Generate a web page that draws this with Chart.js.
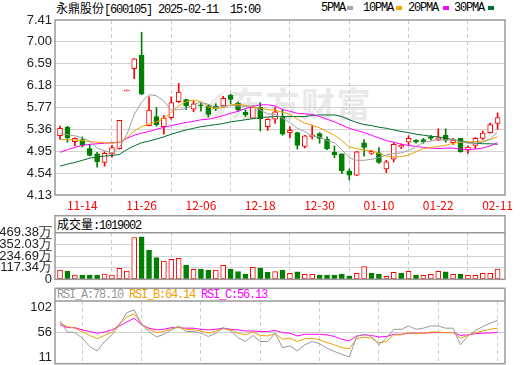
<!DOCTYPE html>
<html>
<head>
<meta charset="utf-8">
<script src="https://cdn.jsdelivr.net/npm/chart.js@4.4.1/dist/chart.umd.min.js"></script>
<style>
  body { margin: 0; width: 520px; height: 365px; background: #fff; position: relative; overflow: hidden; }
  canvas { position: absolute; left: 0; }
  .t { position: absolute; font: 12px "Noto Sans CJK SC"; line-height: 14px; white-space: pre; color: #000; }
  .m { font-family: "Liberation Mono"; letter-spacing: -1.2px; }
  .sq { position: absolute; width: 6px; height: 4px; top: 6px; }
  #wm { position: absolute; left: 230px; top: 85px; font: bold 34px "Noto Sans CJK SC"; line-height: 36px; color: #e9e9e9; letter-spacing: 1.5px; }
  #logo { position: absolute; left: 196px; top: 88px; }
</style>
</head>
<body>
<svg id="logo" width="36" height="34" viewBox="0 0 36 34">
  <path d="M4 30 Q14 10 30 2 Q20 14 14 32 Z" fill="#ececec"/>
  <path d="M16 32 Q22 18 34 10 Q28 22 26 32 Z" fill="#ececec"/>
</svg>
<div id="wm">东方财富</div>

<div class="t" style="left:56px;top:1px">永鼎股份<span class="m">[600105] 2025-02-11  15:00</span></div>
<div class="t m" style="left:321px;top:1px">5PMA</div><div class="sq" style="left:347px;background:#a6a6a6"></div>
<div class="t m" style="left:363px;top:1px">10PMA</div><div class="sq" style="left:396px;background:#f5a800"></div>
<div class="t m" style="left:408px;top:1px">20PMA</div><div class="sq" style="left:443px;background:#ff00ff"></div>
<div class="t m" style="left:454px;top:1px">30PMA</div><div class="sq" style="left:488px;background:#00702d"></div>

<div class="t" style="left:57px;top:217px">成交量<span class="m">:1019002</span></div>
<div class="t m" style="left:57px;top:288px"><span style="color:#999">RSI_A:78.10</span> <span style="color:#f0a000">RSI_B:64.14</span> <span style="color:#ff00ff">RSI_C:56.13</span></div>

<canvas id="kline" width="520" height="215" style="top:0"></canvas>
<canvas id="vol" width="520" height="75" style="top:210px"></canvas>
<canvas id="rsi" width="520" height="80" style="top:285px"></canvas>

<script>
const dates = ['11-11','11-12','11-13','11-14','11-15','11-18','11-19','11-20','11-21','11-22',
  '11-25','11-26','11-27','11-28','11-29','12-02','12-03','12-04','12-05','12-06',
  '12-09','12-10','12-11','12-12','12-13','12-16','12-17','12-18','12-19','12-20',
  '12-23','12-24','12-25','12-26','12-27','12-30','12-31','01-02','01-03','01-06',
  '01-07','01-08','01-09','01-10','01-13','01-14','01-15','01-16','01-17','01-20',
  '01-21','01-22','01-23','01-24','01-27','02-05','02-06','02-07','02-10','02-11'];
const tickIdx = [3, 11, 19, 27, 35, 43, 51, 59];

const open = [5.24,5.40,5.13,5.17,5.00,4.90,4.74,4.90,5.00,6.08,
  6.50,6.75,5.43,5.60,5.41,5.58,5.88,5.92,5.74,5.82,
  5.80,5.80,5.80,6.00,5.85,5.68,5.57,5.78,5.41,5.55,
  5.60,5.30,5.30,5.04,5.22,5.28,5.18,4.93,4.90,4.58,
  4.50,5.11,4.91,4.92,4.62,4.80,5.03,5.12,5.16,5.17,
  5.22,5.16,5.25,5.11,5.19,4.97,5.06,5.19,5.30,5.47];
const high = [5.42,5.42,5.20,5.22,5.08,4.93,4.94,5.06,5.53,6.08,
  6.69,7.18,5.97,5.77,5.62,5.97,6.22,5.93,5.89,5.85,
  5.83,5.84,5.98,6.02,5.87,5.73,5.80,5.86,5.56,5.77,
  5.74,5.41,5.31,5.25,5.43,5.30,5.22,5.05,4.90,4.62,
  4.95,5.17,4.97,5.02,4.78,5.11,5.09,5.24,5.17,5.19,
  5.25,5.37,5.37,5.19,5.19,5.05,5.21,5.33,5.48,5.67];
const low = [5.17,5.12,5.05,5.03,4.86,4.65,4.67,4.84,4.99,6.08,
  6.31,6.01,5.43,5.42,5.27,5.55,5.86,5.73,5.69,5.70,
  5.59,5.71,5.78,5.84,5.69,5.60,5.56,5.33,5.34,5.47,
  5.25,5.20,4.99,5.01,5.18,5.10,4.98,4.83,4.53,4.41,
  4.49,4.86,4.89,4.72,4.55,4.75,5.00,5.06,5.10,5.10,
  5.16,5.15,5.12,5.08,4.93,4.91,5.00,5.17,5.29,5.36];
const close = [5.38,5.20,5.19,5.06,4.87,4.75,4.91,5.02,5.53,6.08,
  6.68,6.02,5.72,5.45,5.57,5.86,6.06,5.80,5.84,5.80,
  5.64,5.75,5.94,5.92,5.73,5.63,5.78,5.56,5.55,5.69,
  5.27,5.34,5.06,5.24,5.26,5.19,5.00,4.88,4.58,4.50,
  4.94,5.02,4.95,4.74,4.75,5.08,5.06,5.19,5.12,5.13,
  5.19,5.20,5.16,5.16,4.94,5.03,5.19,5.29,5.45,5.58];

const ma5 = [5.28,5.26,5.24,5.20,5.14,5.01,4.96,4.92,5.02,5.26,
  5.64,5.87,6.01,5.99,5.89,5.72,5.73,5.75,5.83,5.87,
  5.83,5.77,5.79,5.81,5.80,5.79,5.80,5.72,5.65,5.64,
  5.57,5.48,5.38,5.32,5.23,5.22,5.15,5.11,4.98,4.83,
  4.78,4.78,4.80,4.83,4.88,4.91,4.92,4.96,5.04,5.12,
  5.14,5.17,5.16,5.17,5.13,5.10,5.10,5.12,5.18,5.31];
const ma10 = [5.17,5.17,5.16,5.15,5.13,5.12,5.11,5.10,5.12,5.20,
  5.33,5.41,5.46,5.50,5.57,5.68,5.80,5.88,5.91,5.88,
  5.78,5.75,5.77,5.82,5.83,5.81,5.78,5.76,5.73,5.72,
  5.68,5.64,5.55,5.48,5.44,5.39,5.32,5.25,5.15,5.03,
  5.00,4.97,4.96,4.91,4.86,4.84,4.85,4.88,4.94,5.00,
  5.02,5.04,5.06,5.10,5.12,5.12,5.13,5.14,5.17,5.22];
const ma20 = [4.93,4.98,5.02,5.06,5.08,5.09,5.10,5.11,5.12,5.19,
  5.25,5.29,5.32,5.36,5.40,5.43,5.46,5.49,5.51,5.54,
  5.55,5.58,5.62,5.66,5.70,5.75,5.79,5.82,5.82,5.80,
  5.73,5.70,5.66,5.65,5.64,5.60,5.55,5.50,5.44,5.38,
  5.34,5.30,5.25,5.20,5.15,5.12,5.08,5.06,5.04,5.02,
  5.01,5.00,5.01,5.01,4.99,4.98,4.99,5.01,5.05,5.11];
const ma30 = [4.67,4.71,4.74,4.78,4.82,4.84,4.86,4.87,4.89,4.98,
  5.05,5.11,5.14,5.18,5.22,5.27,5.31,5.35,5.38,5.41,
  5.43,5.45,5.47,5.50,5.52,5.54,5.56,5.58,5.59,5.60,
  5.60,5.60,5.60,5.60,5.62,5.63,5.63,5.63,5.60,5.54,
  5.49,5.45,5.43,5.40,5.38,5.35,5.32,5.30,5.27,5.25,
  5.23,5.22,5.19,5.17,5.14,5.12,5.10,5.09,5.09,5.08];

// volume in 万, and whether the bar is red (up) or green
const volume = [93,83,43,43,43,43,53,43,110,83,
  421,429,295,218,184,201,211,144,101,104,
  94,94,141,104,77,53,121,114,70,77,
  94,60,74,50,50,43,43,43,53,33,
  60,127,63,53,30,70,63,80,43,40,
  50,80,74,50,53,40,40,60,60,101.9];
const volUp = [1,0,1,0,0,0,1,1,1,1,
  1,0,0,0,1,1,1,0,1,0,
  0,1,1,0,0,0,1,0,0,1,
  0,1,0,1,1,0,0,0,0,0,
  1,1,0,0,1,1,0,1,0,1,
  1,1,0,1,0,1,1,1,1,1];

const rsiA = [77,57,56,46,31,23,40,52,70,92,
  97,71,58,48,53,61,68,58,58,55,
  49,55,65,59,47,40,51,40,40,55,
  29,32,23,34,40,36,28,22,17,12,
  49,53,49,34,46,62,62,68,62,64,
  68,68,64,64,34,50,60,67,73,78.10];
const rsiB = [73,67,64,58,51,45,51,57,72,84,
  90,71,62,56,58,63,66,62,61,59,
  55,59,63,61,55,52,57,51,50,54,
  44,46,40,45,46,43,38,34,29,27,
  45,48,46,38,40,52,52,56,54,55,
  57,57,56,56,46,51,56,59,62,64.14];
const rsiC = [70,65,65,61,58,55,57,61,68,75,
  82,70,64,61,62,65,65,64,64,62,
  61,62,64,62,61,59,59,58,58,60,
  56,55,50,53,53,53,52,49,44,41,
  50,52,51,48,49,53,53,55,55,55,
  56,56,56,56,51,52,54,55,55.5,56.13];

const priceTicks = [4.13, 4.54, 4.95, 5.36, 5.77, 6.18, 6.59, 7.00, 7.41];
const volTicks = [0, 117.34, 234.69, 352.03, 469.38];
const rsiTicks = [11, 56, 102];

const RED = '#ff0000', GREEN = '#008000';

const framePlugin = {
  id: 'frame',
  afterDraw(chart, args, opts) {
    const a = chart.chartArea, ctx = chart.ctx, h = opts.header || 0;
    ctx.save();
    ctx.strokeStyle = '#999';
    ctx.lineWidth = 1.5;
    ctx.strokeRect(a.left, a.top - h, a.right - a.left, a.bottom - a.top + h);
    if (h) {
      ctx.beginPath();
      ctx.moveTo(a.left, a.top);
      ctx.lineTo(a.right, a.top);
      ctx.stroke();
    }
    ctx.restore();
  }
};

function xAxis(height, showLabels) {
  return {
    type: 'linear', min: -0.68, max: 60, offset: false,
    afterBuildTicks: s => { s.ticks = tickIdx.map(v => ({ value: v })); },
    afterFit: s => { s.height = height; s.paddingLeft = 0; s.paddingRight = 0; },
    ticks: {
      display: showLabels, autoSkip: false, maxRotation: 0, padding: 3,
      color: RED, font: { family: 'Noto Sans CJK SC', size: 12 },
      callback: v => dates[v]
    },
    grid: { color: '#cccccc', drawTicks: false },
    border: { display: false, dash: [4, 3] }
  };
}

function yAxis(min, max, ticks, label, gridFor) {
  return {
    min: min, max: max,
    afterBuildTicks: s => { s.ticks = ticks.map(v => ({ value: v })); },
    afterFit: s => { s.width = 55; s.paddingTop = 0; s.paddingBottom = 0; },
    ticks: {
      autoSkip: false, padding: 3, color: '#222',
      font: { family: 'Liberation Sans', size: 13 },
      callback: label
    },
    grid: { drawTicks: false, color: c => gridFor(c.tick.value) ? '#d2d2d2' : 'rgba(0,0,0,0)' },
    border: { display: false }
  };
}

const baseOptions = {
  responsive: false,
  animation: false,
  events: [],
  plugins: { legend: { display: false }, tooltip: { enabled: false } }
};

let candleColor = open.map((o, i) => close[i] >= o ? RED : GREEN);
let candleFill = open.map((o, i) => close[i] >= o ? '#ffffff' : GREEN);

function maLine(values, color) {
  return {
    type: 'line', data: values.map((v, i) => ({ x: i, y: v })),
    borderColor: color, borderWidth: 1, pointRadius: 0, tension: 0, order: 0
  };
}

new Chart(document.getElementById('kline'), {
  type: 'bar',
  data: {
    datasets: [
      {
        data: low.map((l, i) => ({ x: i, y: [l, high[i]] })),
        backgroundColor: candleColor, barThickness: 1, minBarLength: 1, grouped: false, order: 2
      },
      {
        data: open.map((o, i) => ({ x: i, y: [o, close[i]] })),
        backgroundColor: candleFill, borderColor: candleColor, borderWidth: 1, borderSkipped: false,
        barThickness: 5, minBarLength: 1, grouped: false, order: 1
      },
      maLine(ma5, '#a0a0a0'),
      maLine(ma10, '#f0a000'),
      maLine(ma20, '#ff00ff'),
      maLine(ma30, '#006d2c')
    ]
  },
  options: Object.assign({}, baseOptions, {
    layout: { padding: { top: 20, right: 15, left: 0, bottom: 0 } },
    scales: {
      x: xAxis(20, true),
      y: yAxis(4.13, 7.41, priceTicks, v => v.toFixed(2), v => v > 4.13 && v < 7.41)
    },
    plugins: Object.assign({}, baseOptions.plugins, { frame: { header: 0 } })
  }),
  plugins: [framePlugin]
});

new Chart(document.getElementById('vol'), {
  type: 'bar',
  data: {
    datasets: [{
      data: volume.map((v, i) => ({ x: i, y: v })),
      backgroundColor: volUp.map(u => u ? '#ffffff' : GREEN),
      borderColor: volUp.map(u => u ? RED : GREEN),
      borderWidth: 1, borderSkipped: false, barThickness: 5
    }]
  },
  options: Object.assign({}, baseOptions, {
    layout: { padding: { top: 22.7, right: 15, left: 0, bottom: 0 } },
    scales: {
      x: xAxis(5.7, false),
      y: yAxis(0, 469.38, volTicks, v => v === 0 ? '0' : v.toFixed(2) + '万', v => v > 0 && v < 469.38)
    },
    plugins: Object.assign({}, baseOptions.plugins, { frame: { header: 17 } })
  }),
  plugins: [framePlugin]
});

new Chart(document.getElementById('rsi'), {
  type: 'line',
  data: {
    datasets: [
      maLine(rsiA, '#999999'),
      maLine(rsiB, '#f0a000'),
      maLine(rsiC, '#ff00ff')
    ]
  },
  options: Object.assign({}, baseOptions, {
    layout: { padding: { top: 16, right: 15, left: 0, bottom: 0 } },
    scales: {
      x: xAxis(1.3, false),
      y: yAxis(0, 113, rsiTicks, v => String(v), v => v === 56)
    },
    plugins: Object.assign({}, baseOptions.plugins, { frame: { header: 12.7 } })
  }),
  plugins: [framePlugin]
});
</script>
</body>
</html>
